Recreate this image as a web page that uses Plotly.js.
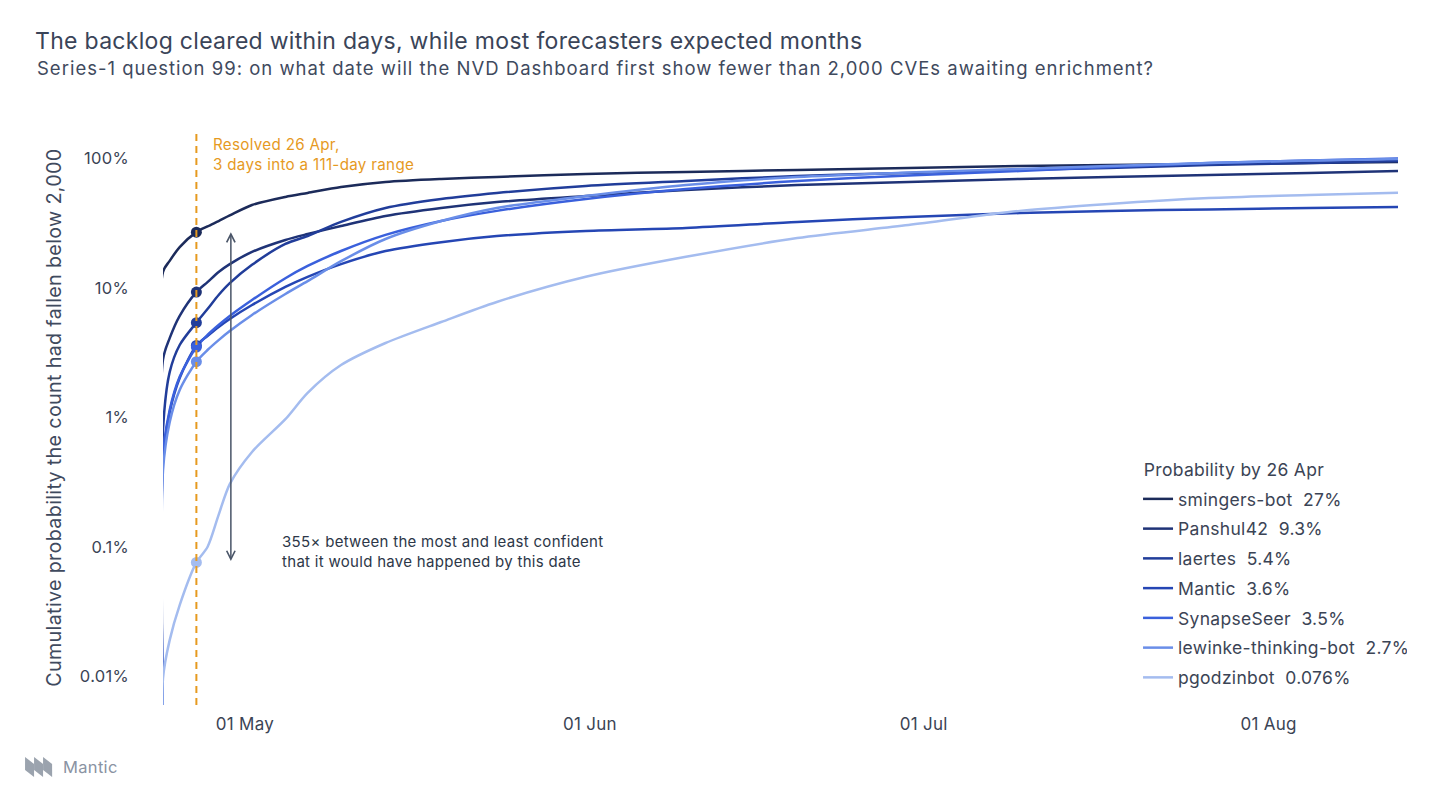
<!DOCTYPE html>
<html>
<head>
<meta charset="utf-8">
<script src="https://cdn.plot.ly/plotly-3.0.1.min.js"></script>
<style>
  html, body { margin: 0; padding: 0; background: #ffffff; }
  #chart { width: 1456px; height: 803px; }
  #chart text { letter-spacing: 0.3px; }
  #chart g.annotation[data-index="0"] text { letter-spacing: 1px; }
</style>
</head>
<body>
<div id="chart"></div>
<script>
// ---------- data ----------
const rangeStart = '2025-04-23';
const rangeEnd = '2025-08-12';
const resolvedDate = '2025-04-26';
// day offsets from rangeStart
const days = [0, 0.6, 1.5, 3, 4, 5, 6, 8, 11, 13, 16, 20, 25, 30, 38, 47, 57, 67, 77, 85, 94, 103, 111];
// cumulative probability (%) for each forecaster
const smingersBot = [13.3, 16.2, 20.7, 27, 29.9, 32.9, 36.3, 43.7, 50.5, 54.2, 60.2, 65.9, 69.5, 72.0, 75.9, 78.7, 81.5, 84.5, 87.5, 89.1, 90.7, 92.3, 93.9];
const panshul42 = [2.8, 4.1, 6.1, 9.3, 11.1, 13.3, 15.3, 19.0, 23.5, 26.1, 30.1, 36.0, 41.5, 46.1, 51.3, 57.1, 62.4, 65.9, 69.5, 72.0, 74.6, 77.3, 80.0];
const laertes = [0.8, 2.24, 3.63, 5.4, 6.88, 8.83, 10.9, 15.1, 21.9, 25.2, 32.4, 41.5, 48.7, 54.2, 61.4, 67.0, 73.3, 77.3, 81.5, 84.5, 89.1, 92.3, 95.7];
const mantic = [0.47, 1.10, 2.02, 3.6, 4.26, 5.00, 5.77, 7.39, 10.2, 12.2, 15.3, 19.3, 22.6, 25.2, 27.6, 29.1, 32.4, 35.3, 37.9, 39.4, 40.4, 41.5, 42.2];
const synapseSeer = [0.51, 1.14, 2.06, 3.5, 4.34, 5.18, 6.08, 8.07, 11.9, 14.8, 19.3, 25.7, 32.9, 39.4, 48.7, 58.1, 67.0, 73.9, 80.0, 85.9, 92.3, 96.5, 100];
const lewinkeThinkingBot = [0.39, 0.92, 1.63, 2.7, 3.32, 3.96, 4.65, 6.19, 8.99, 11.3, 16.1, 23.9, 32.9, 41.5, 51.3, 62.4, 72.0, 77.9, 83.0, 87.5, 92.3, 96.5, 99.0];
const pgodzinbot = [0.0097, 0.0191, 0.0356, 0.076, 0.1, 0.177, 0.306, 0.542, 0.97, 1.55, 2.54, 3.76, 5.46, 7.80, 12.2, 17.4, 24.3, 30.6, 39.4, 44.6, 49.5, 52.3, 54.5];
// value before any mass: below the visible axis floor
const floorValue = 0.003;

const forecasters = ['smingers-bot', 'Panshul42', 'laertes', 'Mantic', 'SynapseSeer', 'lewinke-thinking-bot', 'pgodzinbot'];
const probByResolved = [27, 9.3, 5.4, 3.6, 3.5, 2.7, 0.076];
const probLabels = ['27%', '9.3%', '5.4%', '3.6%', '3.5%', '2.7%', '0.076%'];
const seriesValues = [smingersBot, panshul42, laertes, mantic, synapseSeer, lewinkeThinkingBot, pgodzinbot];

const yTickVals = [0.01, 0.1, 1, 10, 100];
const yTickText = ['0.01%', '0.1%', '1%', '10%', '100%'];
const xTickVals = ['2025-05-01', '2025-06-01', '2025-07-01', '2025-08-01'];

// ---------- styles ----------
const colors = ['#1c2b5a', '#1f3377', '#213d9a', '#2546b4', '#3a60dc', '#6a8ee8', '#a4bcef'];
const FONT = 'Inter, "IBM Plex Sans", "Noto Sans", sans-serif';
const TEXT = '#3b4455';
const ORANGE = '#e69a1f';

function dayToDate(d) {
  const t = Date.parse(rangeStart + 'T00:00:00Z') + d * 86400000;
  return new Date(t).toISOString().slice(0, 19).replace('T', ' ');
}

const traces = [];
seriesValues.forEach((vals, i) => {
  const xs = [dayToDate(days[0])].concat(days.map(dayToDate));
  const ys = [floorValue].concat(vals);
  traces.push({
    type: 'scatter',
    mode: 'lines',
    x: xs,
    y: ys,
    name: forecasters[i] + '\u00a0\u00a0' + probLabels[i],
    legendgroup: 'g' + i,
    line: { color: colors[i], width: 2.5, shape: 'spline', smoothing: 0.8 },
    hoverinfo: 'skip'
  });
});
traces.push({
  type: 'scatter',
  mode: 'markers',
  x: forecasters.map(() => resolvedDate),
  y: probByResolved,
  marker: { color: colors, size: 11 },
  showlegend: false,
  hoverinfo: 'skip'
});

const ratio = Math.round(Math.max(...probByResolved) / Math.min(...probByResolved));

const layout = {
  width: 1456,
  height: 803,
  autosize: false,
  paper_bgcolor: '#ffffff',
  plot_bgcolor: '#ffffff',
  margin: { l: 163, r: 58, t: 130, b: 98 },
  font: { family: FONT, color: TEXT, size: 15 },
  title: {
    text: 'The backlog cleared within days, while most forecasters expected months',
    x: 35 / 1456, xref: 'container', xanchor: 'left',
    y: 1 - 41 / 803, yref: 'container', yanchor: 'middle',
    font: { family: FONT, size: 23, color: '#3a4458' }
  },
  showlegend: true,
  legend: {
    x: 0.7895, xanchor: 'left',
    y: (705 - 481) / 575, yanchor: 'top',
    bgcolor: 'rgba(0,0,0,0)',
    font: { family: FONT, size: 17.5, color: TEXT },
    traceorder: 'grouped',
    tracegroupgap: 4,
    itemclick: false
  },
  xaxis: {
    type: 'date',
    range: [rangeStart, rangeEnd],
    tickvals: xTickVals,
    tickformat: '%d %b',
    showgrid: false, zeroline: false, showline: false,
    ticks: '',
    ticklabelstandoff: 7,
    ticklabelshift: -7,
    tickfont: { family: FONT, size: 17, color: TEXT }
  },
  yaxis: {
    type: 'log',
    range: [-2.22, 2.22],
    tickvals: yTickVals,
    ticktext: yTickText,
    showgrid: false, zeroline: false, showline: false,
    ticks: '',
    ticklabelstandoff: 33,
    tickfont: { family: FONT, size: 16.5, color: TEXT }
  },
  shapes: [
    {
      type: 'line', xref: 'x', yref: 'paper',
      x0: resolvedDate, x1: resolvedDate, y0: 0, y1: 1,
      line: { color: ORANGE, width: 2, dash: '7px,5px' }
    },
    // Mantic logo marks
    { type: 'path', xref: 'paper', yref: 'paper', path: 'M -0.1117,-0.0904 L -0.1044,-0.1026 L -0.1044,-0.1252 L -0.1117,-0.1130 Z', fillcolor: '#9ba3ae', line: { width: 0 } },
    { type: 'path', xref: 'paper', yref: 'paper', path: 'M -0.1044,-0.0904 L -0.0971,-0.1026 L -0.0971,-0.1252 L -0.1044,-0.1130 Z', fillcolor: '#9ba3ae', line: { width: 0 } },
    { type: 'path', xref: 'paper', yref: 'paper', path: 'M -0.0971,-0.0904 L -0.0898,-0.1026 L -0.0898,-0.1252 L -0.0971,-0.1130 Z', fillcolor: '#9ba3ae', line: { width: 0 } }
  ],
  annotations: [
    {
      xref: 'paper', yref: 'paper',
      x: (35 - 163) / 1235, y: (705 - 68) / 575,
      xanchor: 'left', yanchor: 'middle', showarrow: false, align: 'left',
      text: 'Series-1 question 99: on what date will the NVD Dashboard first show fewer than 2,000 CVEs awaiting enrichment?',
      font: { family: FONT, size: 18.5, color: '#3f4a5e' }
    },
    {
      xref: 'x', yref: 'paper',
      x: resolvedDate, xshift: 15, y: (705 - 155) / 575,
      xanchor: 'left', yanchor: 'middle', showarrow: false, align: 'left',
      text: 'Resolved 26 Apr,<br>3 days into a 111-day range',
      font: { family: FONT, size: 15.2, color: ORANGE }
    },
    {
      xref: 'x', yref: 'y',
      x: dayToDate(6.1), y: Math.log10(Math.max(...probByResolved)),
      axref: 'x', ayref: 'y',
      ax: dayToDate(6.1), ay: Math.log10(Math.min(...probByResolved)),
      text: '', showarrow: true, arrowside: 'end+start',
      arrowhead: 5, startarrowhead: 5, arrowsize: 1.1, startarrowsize: 1.1,
      arrowwidth: 1.5, arrowcolor: '#4a5568', standoff: 0, startstandoff: 0
    },
    {
      xref: 'x', yref: 'paper',
      x: dayToDate(10.5), y: (705 - 551) / 575,
      xanchor: 'left', yanchor: 'middle', showarrow: false, align: 'left',
      text: ratio + '× between the most and least confident<br>that it would have happened by this date',
      font: { family: FONT, size: 15, color: '#2d3748' }
    },
    {
      xref: 'paper', yref: 'paper',
      x: (62 - 163) / 1235, y: (705 - 767) / 575,
      xanchor: 'left', yanchor: 'middle', showarrow: false,
      text: 'Mantic',
      font: { family: FONT, size: 16.5, color: '#8a93a3' }
    },
    {
      xref: 'paper', yref: 'paper',
      x: (53 - 163) / 1235, y: 0.5,
      xanchor: 'center', yanchor: 'middle', showarrow: false, textangle: -90,
      text: 'Cumulative probability the count had fallen below 2,000',
      font: { family: FONT, size: 19.8, color: '#3f4a5e' }
    },
    {
      xref: 'paper', yref: 'paper',
      x: (1145 - 163) / 1235, y: (705 - 470) / 575,
      xanchor: 'left', yanchor: 'middle', showarrow: false,
      text: 'Probability by 26 Apr',
      font: { family: FONT, size: 17.5, color: TEXT }
    }
  ]
};

Plotly.newPlot('chart', traces, layout, { displayModeBar: false, staticPlot: true });
</script>
</body>
</html>
